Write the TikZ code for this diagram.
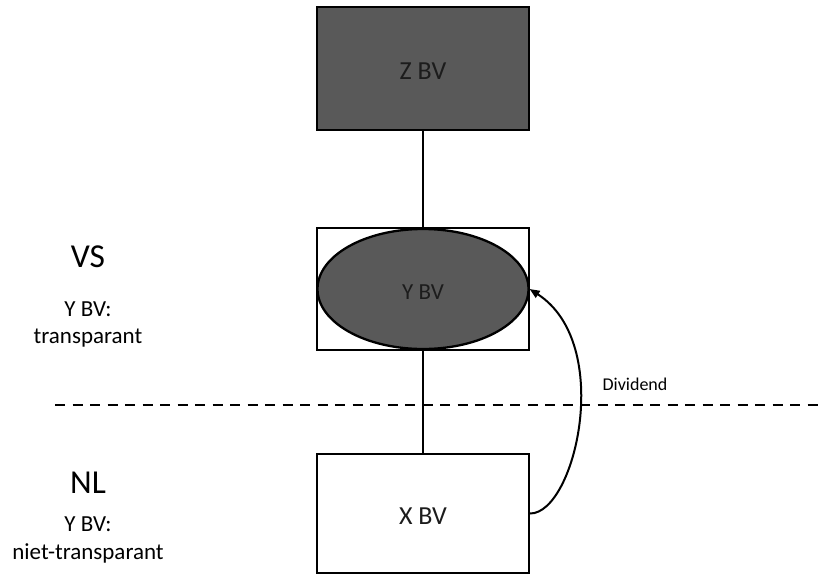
\documentclass[tikz,border=0pt]{standalone}
\usepackage{fontspec}
\setmainfont{Carlito}
\usetikzlibrary{arrows.meta,shapes.geometric}
\definecolor{boxgray}{HTML}{595959}
\definecolor{boxtext}{HTML}{1C1C1C}
\begin{document}
\begin{tikzpicture}[x=1pt,y=-1pt,
  entity/.style={draw=black, line width=2.3pt, minimum width=212pt, inner sep=0pt,
    text height=22pt, text depth=0pt, text=boxtext, font=\fontsize{26}{30}\selectfont},
  shaded/.style={fill=boxgray},
  link/.style={line width=2.3pt},
  country/.style={anchor=base, font=\fontsize{33.5}{38}\selectfont},
  status/.style={anchor=base, font=\fontsize{23}{27}\selectfont},
  flow/.style={line width=2pt, -{Triangle[length=10pt,width=8pt]}}]
\useasboundingbox (0,0) rectangle (824,574);

% entities
\node[entity, shaded, minimum height=123pt] (z) at (423,68.5) {Z BV};
\node[entity, minimum height=122pt] (yrect) at (423,289) {};
\node[entity, shaded, ellipse, minimum width=211pt, minimum height=120pt,
      text height=20pt, font=\fontsize{23}{27}\selectfont] (y) at (423,289) {Y BV};
\node[entity, minimum height=119pt] (x) at (423,513.5) {X BV};

% ownership links
\draw[link] (z.south) -- (yrect.north);
\draw[link] (yrect.south) -- (x.north);

% border between jurisdictions
\coordinate (bl) at (55,405);
\coordinate (br) at (824,405);
\draw[link, dash pattern=on 10pt off 7.5pt] (bl) -- (br);

% dividend flow
\draw[flow] (x.east) .. controls +(45,0) and +(85,55) .. (y.east);
\node[anchor=base, font=\fontsize{18}{22}\selectfont] (div) at (635,390.7) {Dividend};

% jurisdiction labels
\node[country] (vs) at (88,267.7) {VS};
\node[status] (vs1) at (88,316) {Y BV:};
\node[status] (vs2) at (88,343) {transparant};
\node[country] (nl) at (88,493) {NL};
\node[status] (nl1) at (88,531.7) {Y BV:};
\node[status] (nl2) at (88,559) {niet-transparant};
\end{tikzpicture}
\end{document}
